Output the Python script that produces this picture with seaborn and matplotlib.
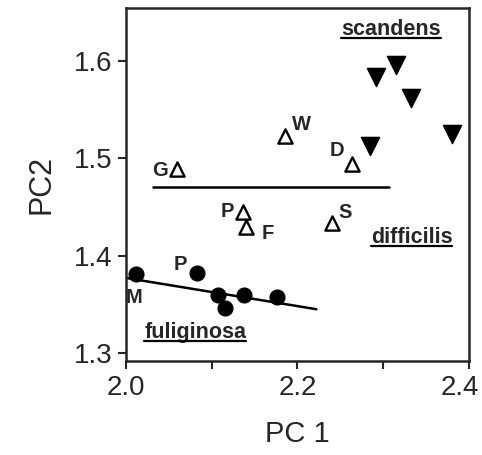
import pandas as pd
import numpy as np
import matplotlib.pyplot as plt
import matplotlib.transforms as mtransforms
import seaborn as sns
from matplotlib.lines import Line2D

# ── Data ─────────────────────────────────────────────────────
scandens_pc1 = [2.292, 2.315, 2.332, 2.380, 2.284]
scandens_pc2 = [1.584, 1.596, 1.562, 1.525, 1.513]

difficilis_pc1 = [2.059, 2.185, 2.263, 2.136, 2.140, 2.240]
difficilis_pc2 = [1.489, 1.523, 1.494, 1.445, 1.429, 1.434]
difficilis_lab = ['G', 'W', 'D', 'P', 'F', 'S']

fuliginosa_pc1 = [2.012, 2.083, 2.107, 2.115, 2.138, 2.176]
fuliginosa_pc2 = [1.381, 1.382, 1.360, 1.346, 1.360, 1.358]

# fitted lines (end points)
difficilis_fit_x = [2.031, 2.307]
difficilis_fit_y = [1.471, 1.471]
fuliginosa_fit_x = [2.001, 2.222]
fuliginosa_fit_y = [1.377, 1.345]

species_names = ['scandens', 'difficilis', 'fuliginosa']
species_x = [2.309, 2.333, 2.081]
species_y = [1.627, 1.413, 1.315]

x_ticks = [2.0, 2.1, 2.2, 2.3, 2.4]
x_ticklabels = ['2.0', '', '2.2', '', '2.4']
y_ticks = [1.3, 1.4, 1.5, 1.6]

# ── Style ────────────────────────────────────────────────────
sns.set_style('ticks')
plt.rcParams['font.family'] = ['Liberation Sans', 'DejaVu Sans']

fig = plt.figure(figsize=(4.82, 4.55), dpi=100)
ax = fig.add_axes([0.2614, 0.2066, 0.7116, 0.7758])

sc = pd.DataFrame({'PC1': scandens_pc1, 'PC2': scandens_pc2})
di = pd.DataFrame({'PC1': difficilis_pc1, 'PC2': difficilis_pc2, 'lab': difficilis_lab})
fu = pd.DataFrame({'PC1': fuliginosa_pc1, 'PC2': fuliginosa_pc2})

sns.lineplot(x=difficilis_fit_x, y=difficilis_fit_y, color='black', lw=1.8, ax=ax)
sns.lineplot(x=fuliginosa_fit_x, y=fuliginosa_fit_y, color='black', lw=1.8, ax=ax)

sns.scatterplot(data=sc, x='PC1', y='PC2', marker='v', s=170, color='black',
                edgecolor='black', ax=ax, zorder=3)
sns.scatterplot(data=di, x='PC1', y='PC2', marker='^', s=105, facecolor='white',
                edgecolor='black', linewidth=1.7, ax=ax, zorder=3)
sns.scatterplot(data=fu, x='PC1', y='PC2', marker='o', s=115, color='black',
                edgecolor='black', ax=ax, zorder=3)

# point labels: offsets in points
offsets = {'G': (-6, -1, 'right'), 'W': (5, 8, 'left'), 'D': (-5, 10, 'right'),
           'P': (-6, 0, 'right'), 'F': (11, -4, 'left'), 'S': (5, 7, 'left')}
lab_kw = dict(textcoords='offset points', va='center', fontsize=14.5, fontweight='bold')
for _, r in di.iterrows():
    dx, dy, ha = offsets[r['lab']]
    ax.annotate(r['lab'], (r['PC1'], r['PC2']), xytext=(dx, dy), ha=ha, **lab_kw)
ax.annotate('M', (fu['PC1'][0], fu['PC2'][0]), xytext=(-2, -17), ha='center', **lab_kw)
ax.annotate('P', (fu['PC1'][1], fu['PC2'][1]), xytext=(-7, 6), ha='right', **lab_kw)

# species names
name_texts = [ax.text(x, y, n, ha='center', va='baseline', fontsize=15.5,
                      fontweight='bold')
              for n, x, y in zip(species_names, species_x, species_y)]

ax.set_xlim(2.0, 2.4)
ax.set_ylim(1.2918, 1.6545)
ax.set_xticks(x_ticks)
ax.set_xticklabels(x_ticklabels)
ax.set_yticks(y_ticks)
ax.tick_params(labelsize=20, length=6, width=1.5, direction='out', pad=4)
ax.set_xlabel('PC 1', fontsize=21, labelpad=14)
ax.set_ylabel('PC2', fontsize=22, labelpad=12)
for s in ax.spines.values():
    s.set_linewidth(1.8)

# keep the last x tick label inside the figure
last = ax.get_xticklabels()[-1]
last.set_horizontalalignment('right')
last.set_transform(last.get_transform() +
                   mtransforms.ScaledTranslation(10 / 100, 0, fig.dpi_scale_trans))

# underline the species names
fig.canvas.draw()
inv = fig.transFigure.inverted()
for t in name_texts:
    bb = t.get_window_extent()
    disp_y = ax.transData.transform((0, t.get_position()[1]))[1] - 3
    (x0, y0), (x1, _) = inv.transform([(bb.x0, disp_y), (bb.x1, disp_y)])
    fig.add_artist(Line2D([x0, x1], [y0, y0], color='black', lw=1.6))

plt.savefig('out.png', dpi=100)
